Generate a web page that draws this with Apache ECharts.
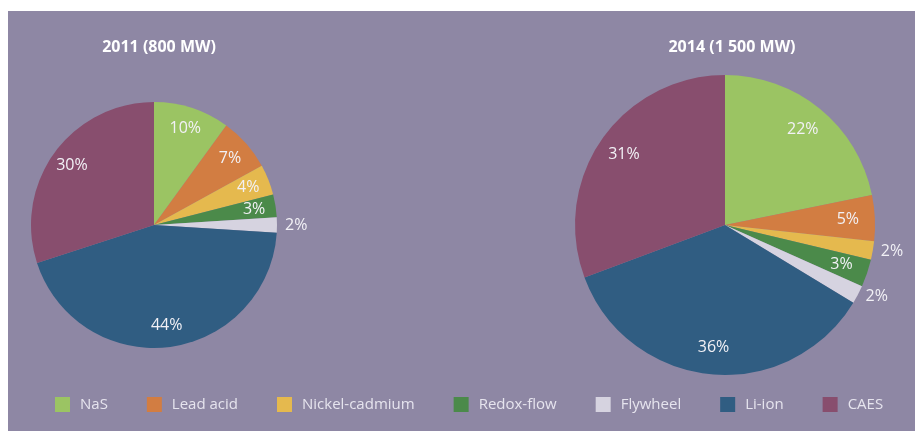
<!DOCTYPE html>
<html>
<head>
<meta charset="utf-8">
<script src="https://cdn.jsdelivr.net/npm/echarts@6/dist/echarts.min.js"></script>
<style>
  html, body { margin: 0; padding: 0; background: #ffffff; }
  #chart { width: 915px; height: 431px; }
</style>
</head>
<body>
<div id="chart"></div>
<script>
// Storage technology shares of installed capacity
const categories = ['NaS', 'Lead acid', 'Nickel-cadmium', 'Redox-flow', 'Flywheel', 'Li-ion', 'CAES'];
const share2011 = [10, 7, 4, 3, 2, 44, 30];
const share2014 = [22, 5, 2, 3, 2, 36, 31];
const titles = ['2011 (800 MW)', '2014 (1 500 MW)'];

const colors = ['#9bc463', '#d27d42', '#e5b94e', '#4b8a4a', '#d6d3e0', '#305d82', '#884e6e'];
const FONT = 'Open Sans';
const LABEL_COLOR = '#f2f1f6';

// Visible pie: solid slices, no labels
function slicePie(values, center, r) {
  return {
    type: 'pie',
    center: center,
    radius: [0, r],
    startAngle: 90,
    clockwise: true,
    silent: true,
    label: { show: false },
    labelLine: { show: false },
    itemStyle: { borderWidth: 0 },
    data: categories.map((name, i) => ({ name, value: values[i] }))
  };
}

// Transparent ring on top that carries the percentage labels;
// its mid radius puts inside labels at ~80% of the pie radius,
// and the thinnest slices get their label just outside the rim.
function labelPie(values, center, r) {
  return {
    type: 'pie',
    center: center,
    radius: [r * 0.6, r],
    startAngle: 90,
    clockwise: true,
    silent: true,
    avoidLabelOverlap: false,
    itemStyle: { color: 'transparent', borderWidth: 0 },
    label: {
      show: true,
      position: 'inside',
      formatter: '{c}%',
      color: LABEL_COLOR,
      fontFamily: FONT,
      fontSize: 16
    },
    labelLine: { show: false, length: 3, length2: 0 },
    data: categories.map((name, i) => ({
      name,
      value: values[i],
      label: values[i] <= 2 ? { position: 'outside', distanceToLabelLine: 5 } : {}
    }))
  };
}

const chart = echarts.init(document.getElementById('chart'), null, { renderer: 'canvas' });

chart.setOption({
  backgroundColor: '#ffffff',
  color: colors,
  animation: false,
  graphic: [{
    type: 'rect',
    shape: { x: 8, y: 11, width: 907, height: 420 },
    style: { fill: '#8e87a4' },
    z: -10,
    silent: true
  }],
  title: [
    {
      text: titles[0],
      left: 154, top: 34, textAlign: 'center',
      textStyle: { color: '#ffffff', fontFamily: FONT, fontWeight: 'bold', fontSize: 16 }
    },
    {
      text: titles[1],
      left: 727, top: 34, textAlign: 'center',
      textStyle: { color: '#ffffff', fontFamily: FONT, fontWeight: 'bold', fontSize: 16 }
    }
  ],
  legend: {
    data: categories,
    orient: 'horizontal',
    left: 50,
    top: 392,
    icon: 'rect',
    itemWidth: 15,
    itemHeight: 15,
    itemGap: 39,
    selectedMode: false,
    textStyle: { color: '#e6e4ee', fontFamily: FONT, fontSize: 15, padding: [0, 0, 0, 5] }
  },
  series: [
    slicePie(share2011, [154, 225], 123),
    slicePie(share2014, [725, 225], 150),
    labelPie(share2011, [154, 225], 123),
    labelPie(share2014, [725, 225], 150)
  ]
});
</script>
</body>
</html>
